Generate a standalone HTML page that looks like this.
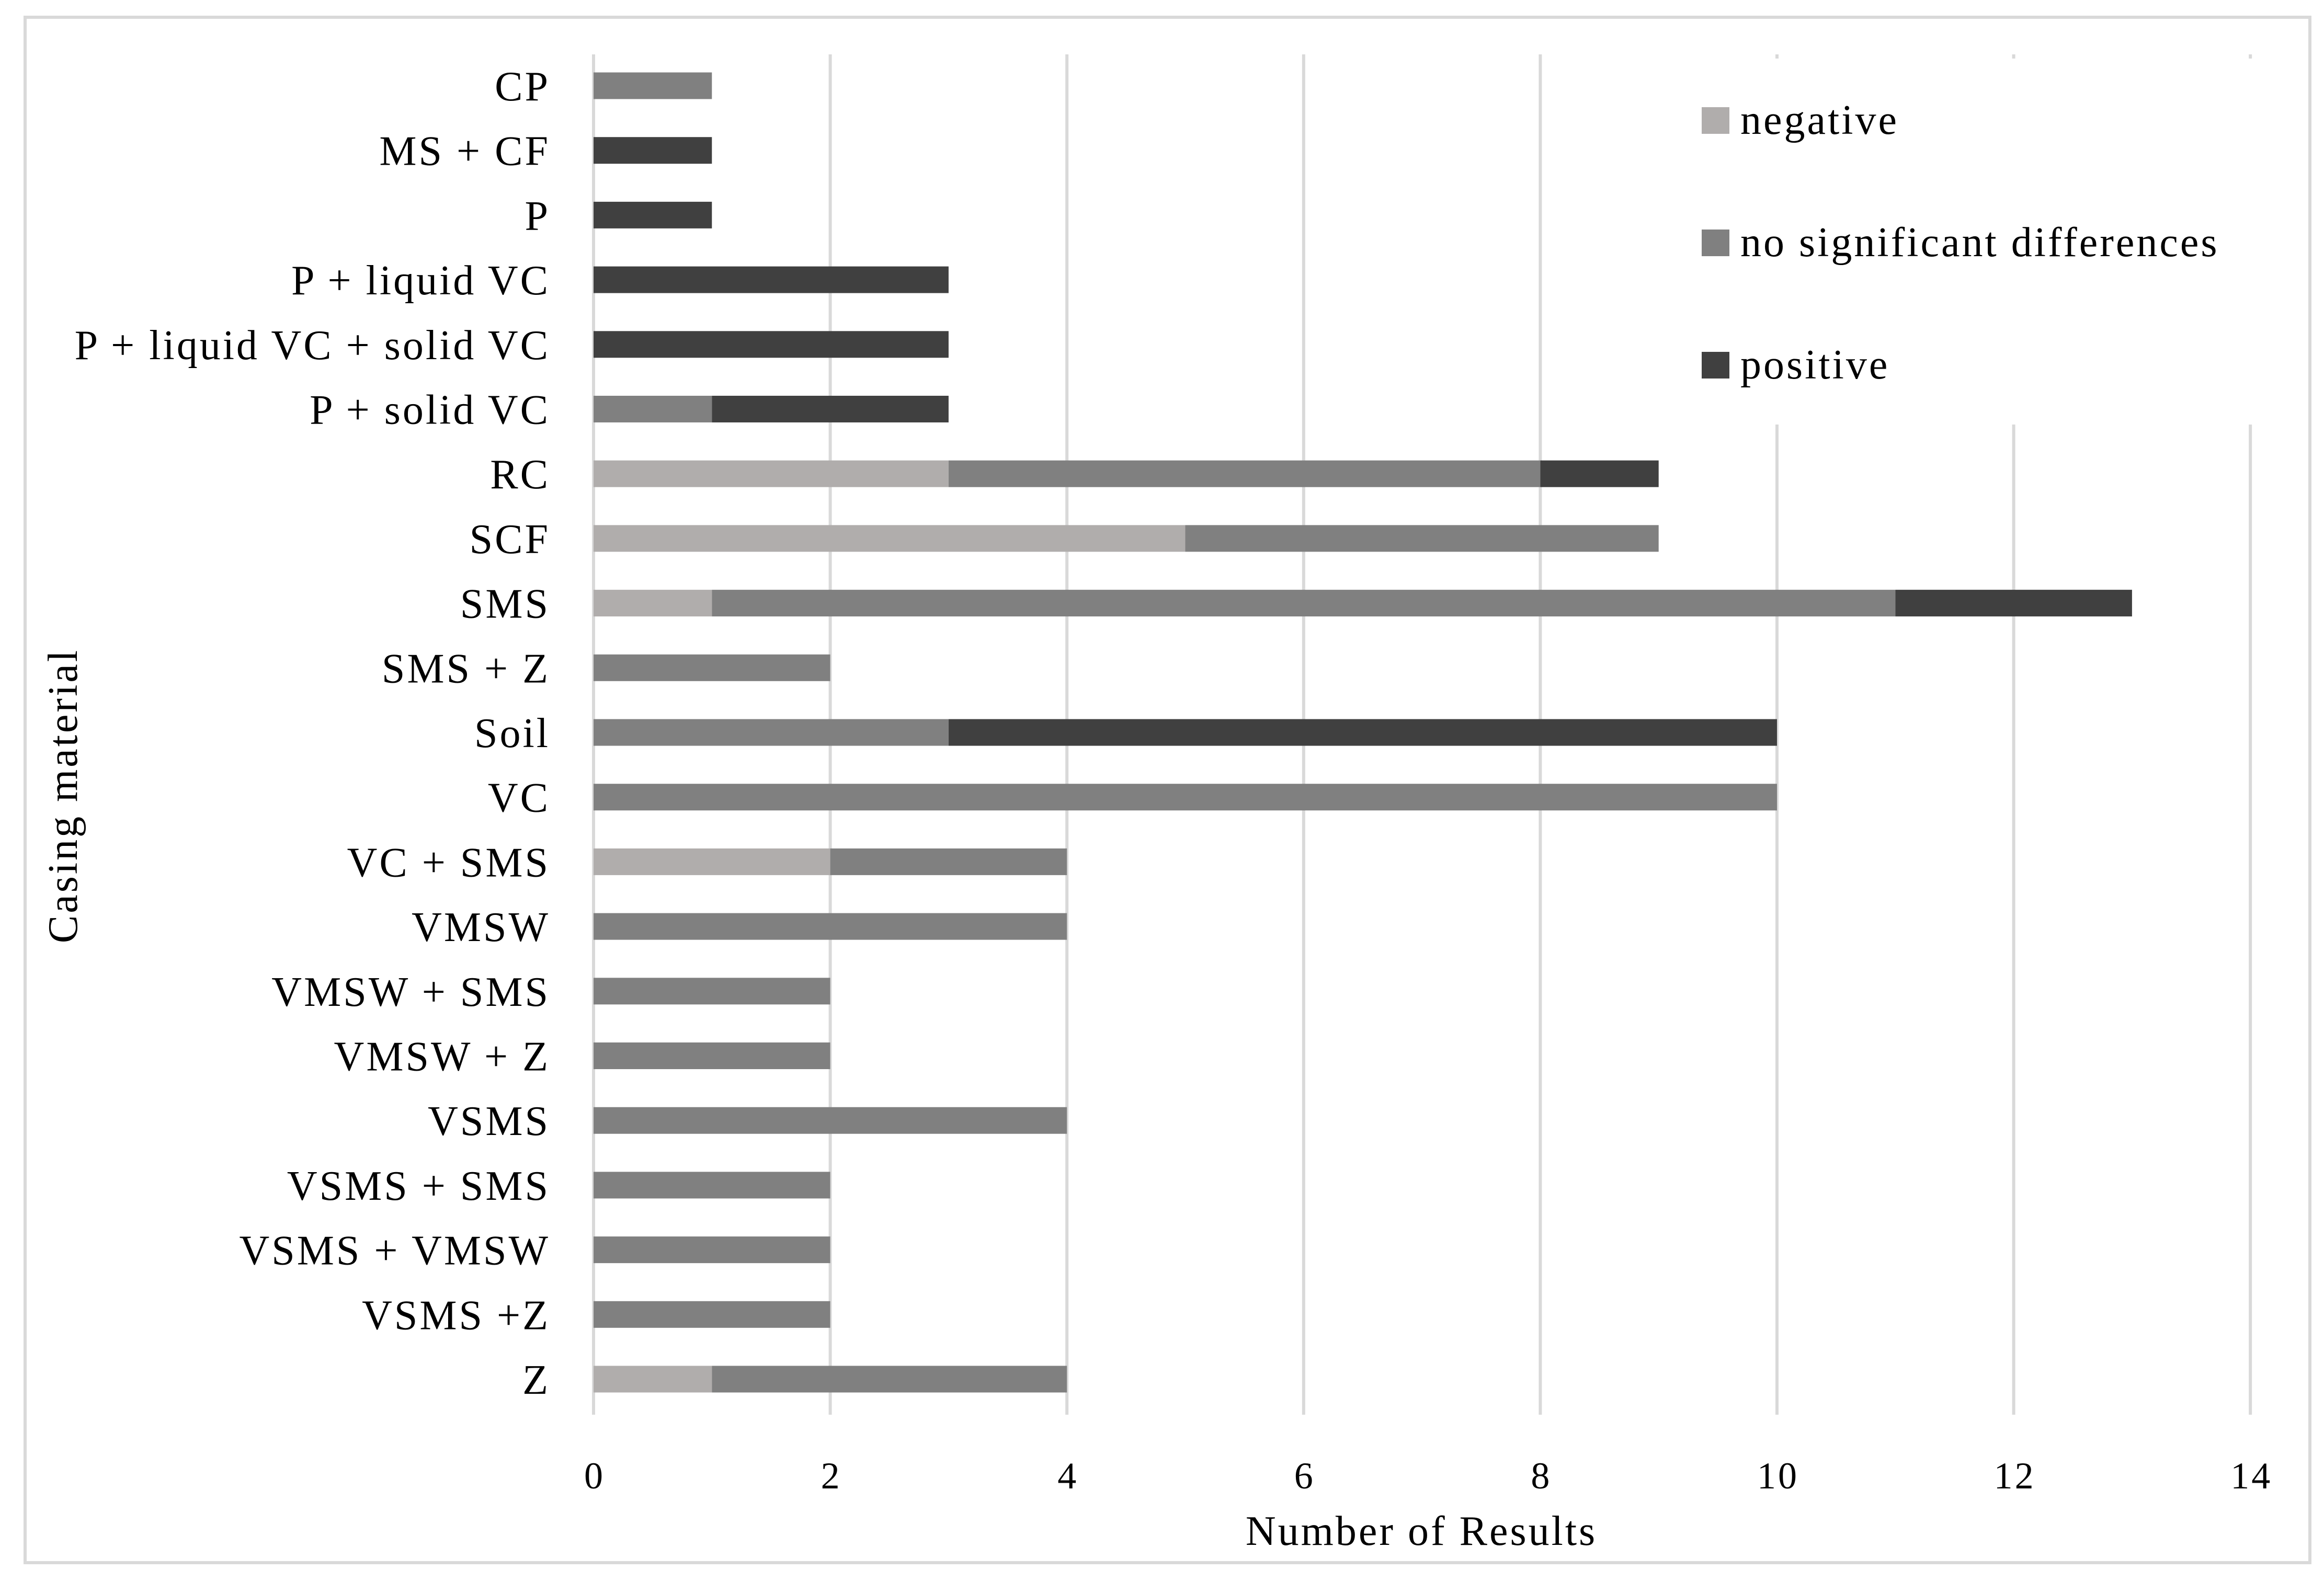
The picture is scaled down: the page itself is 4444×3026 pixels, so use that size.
<!DOCTYPE html>
<html><head><meta charset="utf-8"><style>
html,body{margin:0;padding:0;background:#fff}
svg{display:block}
text{font-family:"Liberation Serif",serif;fill:#000;letter-spacing:4px}
</style></head><body>
<svg id="chart" width="4444" height="3026" xmlns="http://www.w3.org/2000/svg">
<rect x="48" y="33" width="4369" height="2956" fill="#fff" stroke="#d9d9d9" stroke-width="6"/>
<g id="grid"></g>
<g id="bars"></g>
<g id="ylabels"></g>
<g id="xlabels"></g>
<text x="2718" y="2955" font-size="80" text-anchor="middle">Number of Results</text>
<text x="0" y="0" font-size="80" text-anchor="middle" transform="translate(147,1522) rotate(-90)">Casing material</text>
<g id="legend"></g>
</svg>
<script>
const categories=["CP","MS + CF","P","P + liquid VC","P + liquid VC + solid VC","P + solid VC","RC","SCF","SMS","SMS + Z","Soil","VC","VC + SMS","VMSW","VMSW + SMS","VMSW + Z","VSMS","VSMS + SMS","VSMS + VMSW","VSMS +Z","Z"];
const negative=[0,0,0,0,0,0,3,5,1,0,0,0,2,0,0,0,0,0,0,0,1];
const noSig=[1,0,0,0,0,1,5,4,10,2,3,10,2,4,2,2,4,2,2,2,3];
const positive=[0,1,1,3,3,2,1,0,2,0,7,0,0,0,0,0,0,0,0,0,0];
const xTicks=[0,2,4,6,8,10,12,14];
const seriesNames=["negative","no significant differences","positive"];
const seriesColors=["#b0adac","#808080","#404040"];

const NS="http://www.w3.org/2000/svg";
const x0=1135,unit=226.3,yTop=104,yBot=2706,row0=164,rowStep=123.7,barH=51;
const xs=v=>x0+v*unit;
const yc=i=>row0+i*rowStep;
function mk(tag,attrs,parent){const e=document.createElementNS(NS,tag);for(const k in attrs)e.setAttribute(k,attrs[k]);parent.appendChild(e);return e;}
const grid=document.getElementById('grid'),bars=document.getElementById('bars'),yl=document.getElementById('ylabels'),xl=document.getElementById('xlabels'),lg=document.getElementById('legend');
xTicks.forEach(t=>{
  const l=mk('line',{x1:xs(t),x2:xs(t),y1:yTop,y2:yBot,stroke:'#d9d9d9','stroke-width':6},grid);
  
  
  const tx=mk('text',{x:xs(t)+2,y:2847,'font-size':72,'text-anchor':'middle'},xl);
  tx.textContent=t;
  
  
});
const series=[negative,noSig,positive];
categories.forEach((c,i)=>{
  let acc=0;
  series.forEach((s,k)=>{
    if(s[i]>0){
      const r=mk('rect',{x:xs(acc),y:yc(i)-barH/2,width:xs(acc+s[i])-xs(acc),height:barH,fill:seriesColors[k]},bars);
      
      
    }
    acc+=s[i];
  });
  const t=mk('text',{x:1052,y:yc(i)+28,'font-size':80,'text-anchor':'end'},yl);
  t.textContent=c;
  
  
});
const bg=mk('rect',{x:3230,y:112,width:1110,height:700,fill:'#fff'},lg);


seriesNames.forEach((n,k)=>{
  const y=205+k*234;
  const s=mk('rect',{x:3254,y:y,width:53,height:51,fill:seriesColors[k]},lg);
  
  
  const t=mk('text',{x:3328,y:y+51,'font-size':80},lg);
  t.textContent=n;
  
  
});
</script>
</body></html>
